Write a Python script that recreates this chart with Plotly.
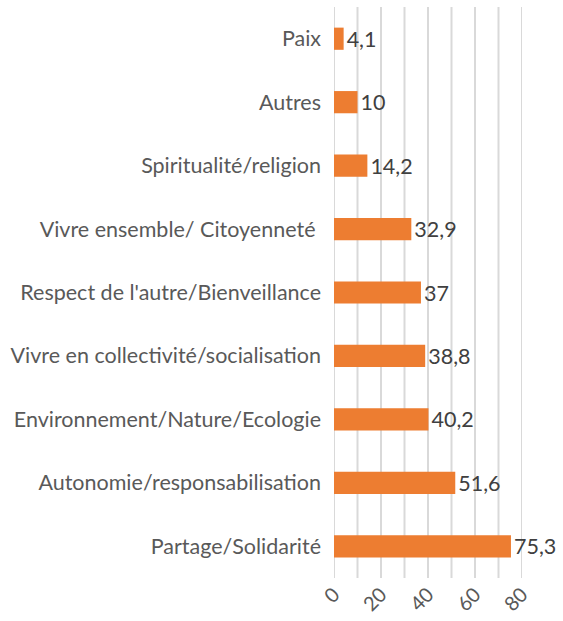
import plotly.graph_objects as go

categories = ["Partage/Solidarité", "Autonomie/responsabilisation", "Environnement/Nature/Ecologie",
              "Vivre en collectivité/socialisation", "Respect de l'autre/Bienveillance",
              "Vivre ensemble/ Citoyenneté ", "Spiritualité/religion", "Autres", "Paix"]
values = [75.3, 51.6, 40.2, 38.8, 37, 32.9, 14.2, 10, 4.1]
value_labels = ["75,3", "51,6", "40,2", "38,8", "37", "32,9", "14,2", "10", "4,1"]
tick_vals = [0, 20, 40, 60, 80]

fig = go.Figure(go.Bar(
    y=categories, x=values, orientation="h",
    marker=dict(color="#ED7D31", line=dict(width=0)),
    text=value_labels, textposition="outside", cliponaxis=False, constraintext="none",
    textfont=dict(color="#404040", size=21.5, family="Lato"),
))
fig.update_layout(
    width=563, height=621, margin=dict(l=334, r=41, t=7, b=43, autoexpand=False),
    paper_bgcolor="white", plot_bgcolor="white", bargap=0.65, showlegend=False,
    font=dict(family="Lato", color="#595959", size=21.5),
)
fig.update_xaxes(range=[0, 80], tickvals=tick_vals, ticktext=[str(v) for v in tick_vals],
                 tickangle=-45, showgrid=False, zeroline=False, showline=False, automargin=False,
                 tickfont=dict(size=20, color="#595959", family="Lato"))
for g in range(0, 81, 10):
    fig.add_vline(x=g, line=dict(color="#D9D9D9", width=2), layer="below")
fig.update_yaxes(showgrid=False, zeroline=False, showline=False, ticks="", ticklabelstandoff=12,
                 automargin=False, tickfont=dict(size=21.5, color="#595959", family="Lato"))
fig.write_html("out.html", config={"displayModeBar": False},
               post_script="document.body.style.margin='0';")
